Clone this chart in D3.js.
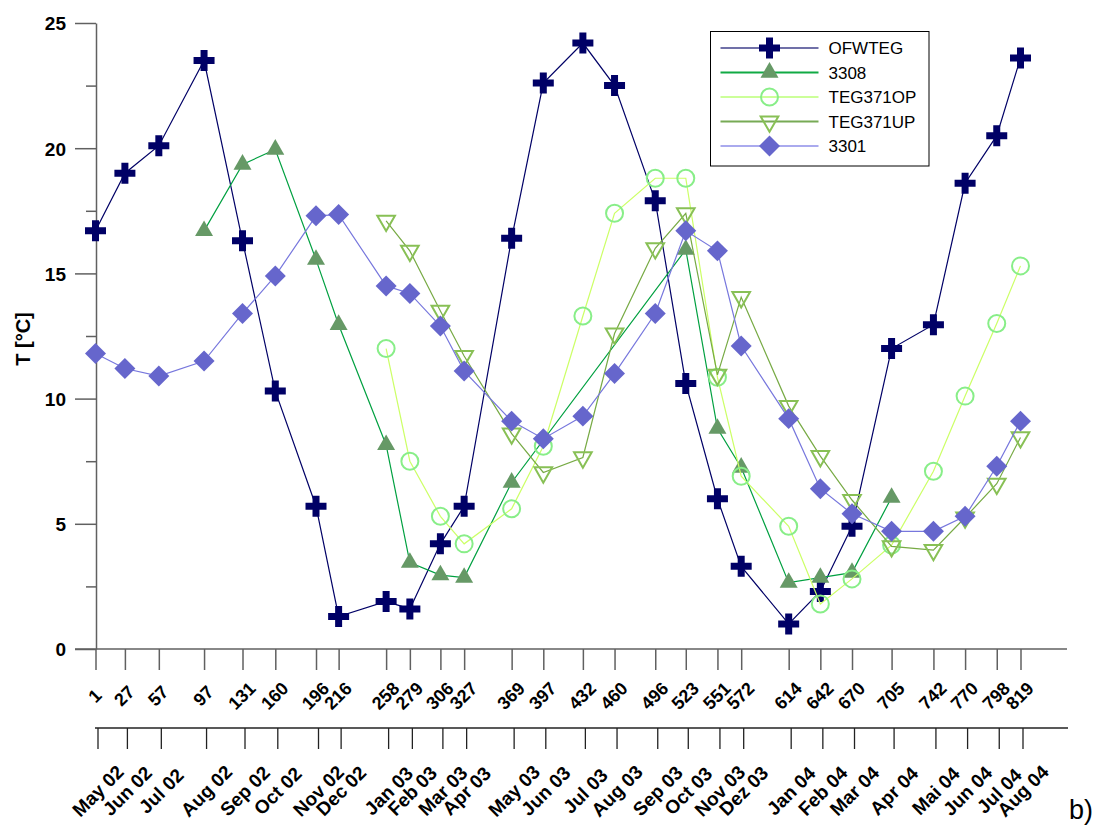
<!DOCTYPE html>
<meta charset="utf-8">
<style>
body { margin: 0; background: #fff; }
svg { font-family: "Liberation Sans", Arial, sans-serif; }
.axis path, .axis line { stroke: #606060; stroke-width: 1.5px; }
.axis2 path, .axis2 line { stroke: #222; stroke-width: 1.3px; }
.axis text, .axis2 text { font-weight: bold; fill: #000; }
</style>
<svg width="1095" height="829"></svg>
<script src="https://cdn.jsdelivr.net/npm/d3@7"></script>
<script>
// sampling days and the matching month labels
var days = [1, 27, 57, 97, 131, 160, 196, 216, 258, 279, 306, 327, 369, 397,
            432, 460, 496, 523, 551, 572, 614, 642, 670, 705, 742, 770, 798, 819];
var months = ["May 02", "Jun 02", "Jul 02", "Aug 02", "Sep 02", "Oct 02", "Nov 02", "Dec 02",
              "Jan 03", "Feb 03", "Mar 03", "Apr 03", "May 03", "Jun 03", "Jul 03", "Aug 03",
              "Sep 03", "Oct 03", "Nov 03", "Dez 03", "Jan 04", "Feb 04", "Mar 04", "Apr 04",
              "Mai 04", "Jun 04", "Jul 04", "Aug 04"];
var yTicks = [0, 5, 10, 15, 20, 25];
var yMinor = [2.5, 7.5, 12.5, 17.5, 22.5];

// temperatures per day (null = no measurement)
var ofwteg = [16.7, 19.0, 20.1, 23.5, 16.3, 10.3, 5.7, 1.3, 1.9, 1.6, 4.2, 5.7, 16.4, 22.6,
              24.2, 22.5, 17.9, 10.6, 6.0, 3.3, 1.0, 2.3, 4.9, 12.0, 12.95, 18.6, 20.5, 23.6];
var s3308 = [null, null, null, 16.7, 19.35, 19.95, 15.55, 12.95, 8.15, 3.45, 2.95, 2.85, 6.65, null,
             null, null, null, 15.95, 8.8, 7.25, 2.65, 2.85, 3.05, 6.05, null, null, null, null];
var teg371op = [null, null, null, null, null, null, null, null, 12.0, 7.5, 5.3, 4.2, 5.6, 8.1,
                13.3, 17.4, 18.8, 18.8, 10.85, 6.9, 4.9, 1.8, 2.8, 4.15, 7.1, 10.1, 13.0, 15.3];
var teg371up = [null, null, null, null, null, null, null, null, 17.1, 15.9, 13.5, 11.7, 8.6, 7.05,
                7.65, 12.6, 16.0, 17.4, 10.95, 14.05, 9.7, 7.7, 5.95, 4.1, 3.95, 5.25, 6.6, 8.45];
var s3301 = [11.8, 11.2, 10.9, 11.5, 13.4, 14.9, 17.3, 17.35, 14.5, 14.2, 12.9, 11.1, 9.1, 8.4,
             9.3, 11.0, 13.4, 16.7, 15.9, 12.1, 9.2, 6.4, 5.4, 4.7, 4.7, 5.3, 7.3, 9.1];

var series = [
  {name: "OFWTEG",   values: ofwteg,   line: "#000066", legendLine: "#7070a8", shape: "cross",    color: "#000066"},
  {name: "3308",     values: s3308,    line: "#00a040", legendLine: "#11aa44", shape: "triangle", color: "#669966"},
  {name: "TEG371OP", values: teg371op, line: "#ccff66", legendLine: "#ccff99", shape: "circle",   color: "#88ee88"},
  {name: "TEG371UP", values: teg371up, line: "#77aa44", legendLine: "#77aa55", shape: "down",     color: "#88c055"},
  {name: "3301",     values: s3301,    line: "#7777dd", legendLine: "#aaaaee", shape: "diamond",  color: "#6666cc"}
];

var svg = d3.select("svg");

var x = d3.scaleLinear().domain([1, 819]).range([95.5, 1020.5]);
var xm = d3.scaleLinear().domain([1, 819]).range([97.5, 1022.5]);
var y = d3.scaleLinear().domain([0, 25]).range([649, 23]);

// y axis
svg.append("g")
    .attr("class", "axis")
    .attr("transform", "translate(96,0)")
    .call(d3.axisLeft(y).tickValues(yTicks).tickSize(21).tickSizeOuter(0).tickPadding(9))
    .call(function(g) {
      g.selectAll("text").style("font-size", "19px").attr("dy", "0.36em");
    });
svg.append("g")
    .attr("class", "axis")
    .attr("transform", "translate(96,0)")
    .call(d3.axisLeft(y).tickValues(yMinor).tickSize(10).tickSizeOuter(0).tickFormat(""))
    .select(".domain").remove();

svg.append("text")
    .attr("transform", "translate(30,339) rotate(-90)")
    .attr("text-anchor", "middle")
    .style("font-size", "20px")
    .style("font-weight", "bold")
    .text("T [°C]");

// day axis
var dayAxis = svg.append("g")
    .attr("class", "axis")
    .attr("transform", "translate(0,649)")
    .call(d3.axisBottom(x).tickValues(days).tickSize(21).tickSizeOuter(0).tickFormat(d3.format("d")));
dayAxis.select(".domain").attr("d", "M75,0H1067");
dayAxis.selectAll("text")
    .attr("y", null).attr("dy", null)
    .attr("text-anchor", "middle")
    .attr("dominant-baseline", "central")
    .attr("transform", "translate(-1,47) rotate(-45)")
    .style("font-size", "18px");

// month axis
var monthAxis = svg.append("g")
    .attr("class", "axis2")
    .attr("transform", "translate(0,728)")
    .call(d3.axisBottom(xm).tickValues(days).tickSize(21).tickSizeOuter(0)
      .tickFormat(function(d, i) { return months[i]; }));
monthAxis.select(".domain").attr("d", "M95,0H1068");
monthAxis.selectAll("text")
    .attr("y", null).attr("dy", null)
    .attr("text-anchor", "middle")
    .attr("dominant-baseline", "central")
    .attr("transform", "translate(0,63) rotate(-45)")
    .style("font-size", "19px");

svg.append("text")
    .attr("x", 1069).attr("y", 819)
    .style("font-size", "27px")
    .text("b)");

// markers
var sym = {
  cross: d3.symbol(d3.symbolCross, 245)(),
  triangle: d3.symbol(d3.symbolTriangle, 140)(),
  down: d3.symbol(d3.symbolTriangle, 135)(),
  diamond: d3.symbol(d3.symbolSquare, 220)()
};

function marker(g, s) {
  if (s.shape == "circle") {
    g.append("circle").attr("r", 8.5)
        .attr("fill", "none").attr("stroke", s.color).attr("stroke-width", 2);
  } else if (s.shape == "down") {
    g.append("path").attr("d", sym.down).attr("transform", "rotate(180)")
        .attr("fill", "none").attr("stroke", s.color).attr("stroke-width", 2);
  } else if (s.shape == "diamond") {
    g.append("path").attr("d", sym.diamond).attr("transform", "rotate(45)").attr("fill", s.color);
  } else {
    g.append("path").attr("d", sym[s.shape]).attr("fill", s.color);
  }
}

var line = d3.line()
    .x(function(d) { return x(d[0]); })
    .y(function(d) { return y(d[1]); });

series.forEach(function(s) {
  var pts = days.map(function(d, i) { return [d, s.values[i]]; })
      .filter(function(p) { return p[1] != null; });
  svg.append("path")
      .datum(pts)
      .attr("fill", "none")
      .attr("stroke", s.line)
      .attr("stroke-width", 1.2)
      .attr("d", line);
  svg.append("g").selectAll("g")
      .data(pts)
    .enter().append("g")
      .attr("transform", function(p) { return "translate(" + x(p[0]) + "," + y(p[1]) + ")"; })
      .each(function() { marker(d3.select(this), s); });
});

// legend
var legend = svg.append("g").attr("transform", "translate(710.5,31.5)");
legend.append("rect")
    .attr("width", 218.5).attr("height", 134.5)
    .attr("fill", "#fff").attr("stroke", "#000").attr("stroke-width", 1);
var row = legend.selectAll(".row")
    .data(series)
  .enter().append("g")
    .attr("class", "row")
    .attr("transform", function(d, i) { return "translate(0," + (16.5 + i * 24.5) + ")"; });
row.append("line")
    .attr("x1", 10).attr("x2", 108)
    .attr("stroke", function(d) { return d.legendLine; })
    .attr("stroke-width", 2);
row.append("g")
    .attr("transform", "translate(59,0)")
    .each(function(d) { marker(d3.select(this), d); });
row.append("text")
    .attr("x", 118).attr("dy", "0.36em")
    .style("font-size", "17px")
    .text(function(d) { return d.name; });
</script>
